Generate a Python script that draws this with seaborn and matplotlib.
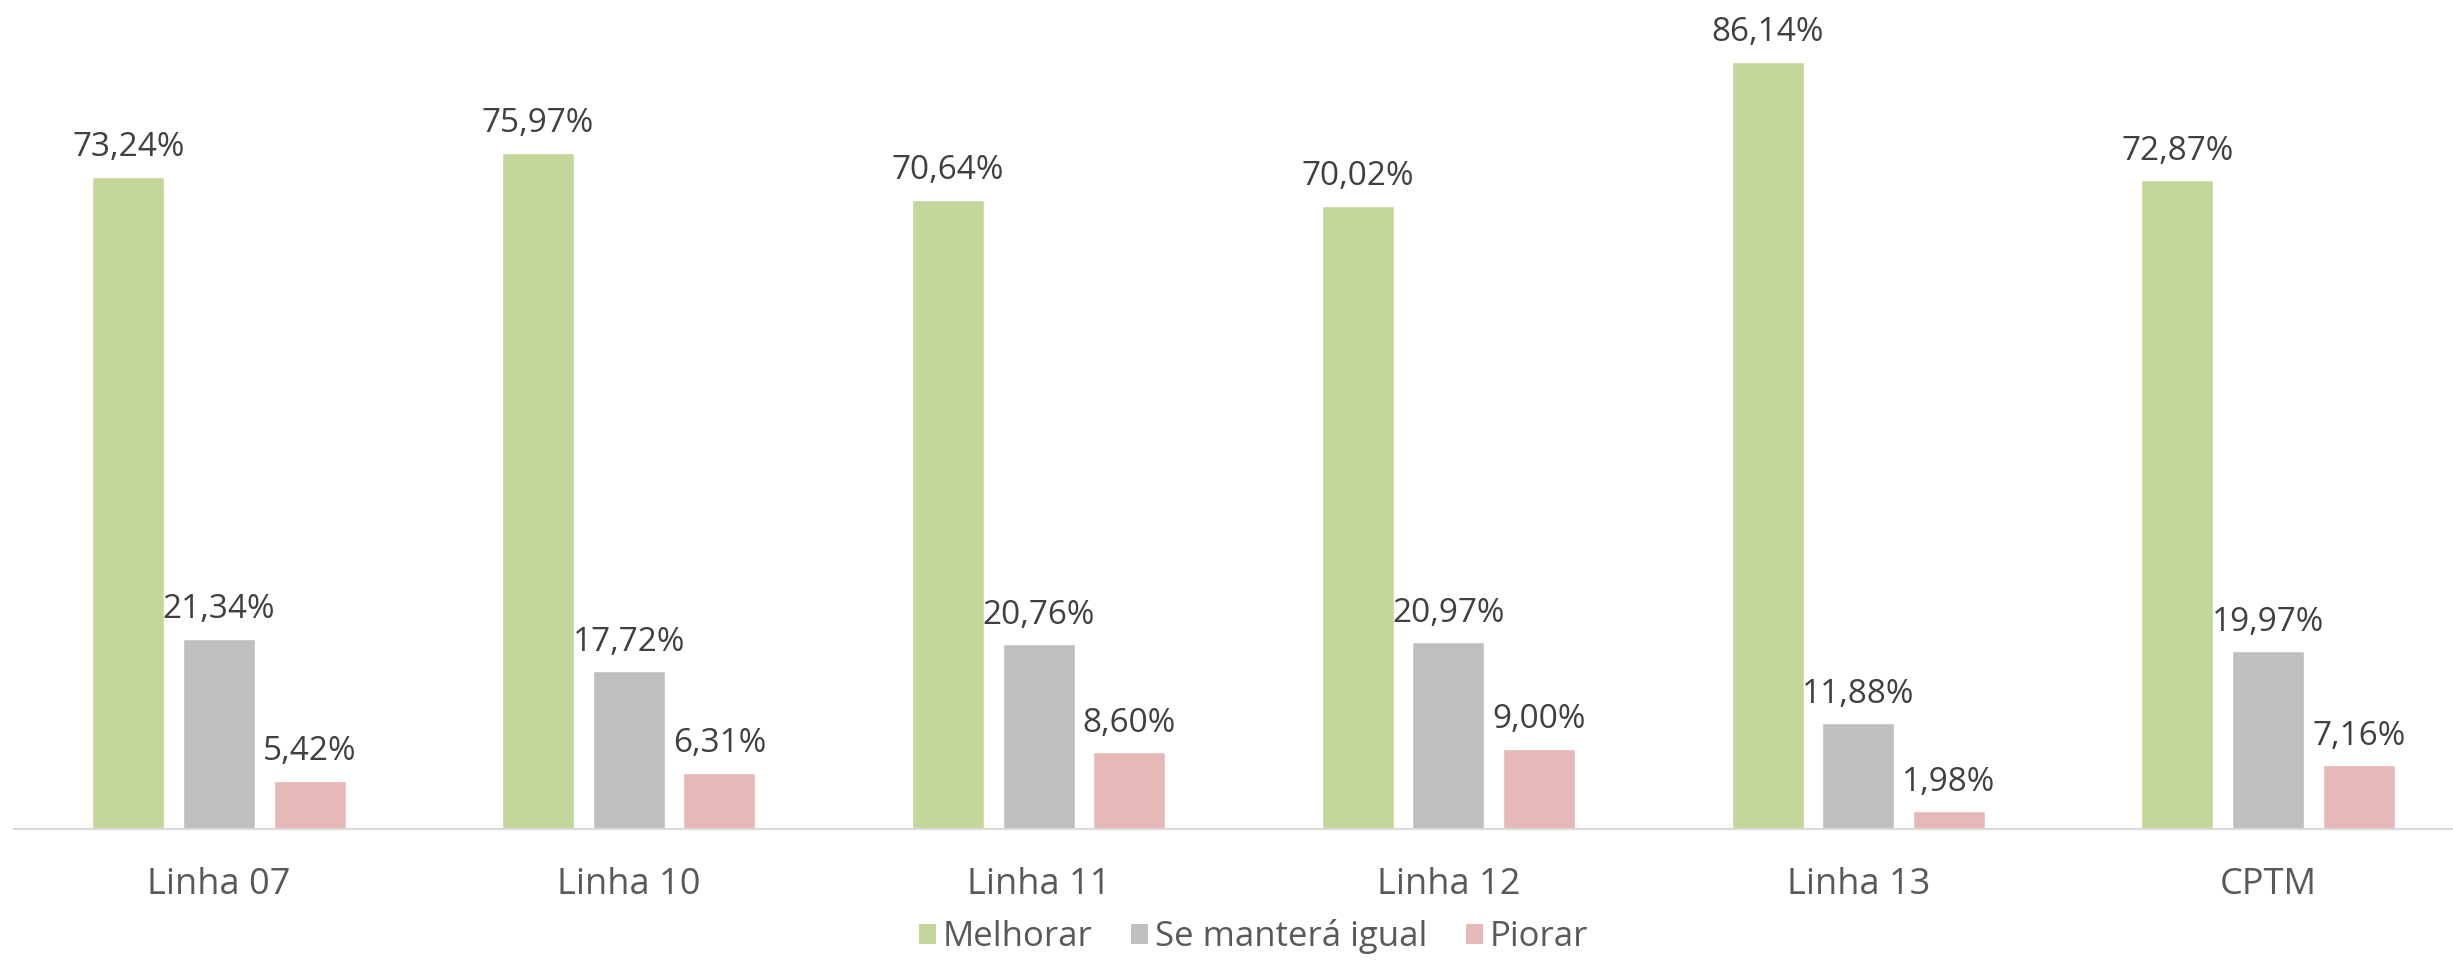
import matplotlib
matplotlib.use("Agg")
import matplotlib.pyplot as plt
import seaborn as sns
import pandas as pd
from matplotlib.patches import Patch

# Survey results per line (percent)
categories = ["Linha 07", "Linha 10", "Linha 11", "Linha 12", "Linha 13", "CPTM"]
series_names = ["Melhorar", "Se manterá igual", "Piorar"]
melhorar = [73.24, 75.97, 70.64, 70.02, 86.14, 72.87]
mantera = [21.34, 17.72, 20.76, 20.97, 11.88, 19.97]
piorar = [5.42, 6.31, 8.60, 9.00, 1.98, 7.16]
colors = ["#C4D79B", "#BFBFBF", "#E6B9B8"]

df = pd.DataFrame({
    "categoria": categories * 3,
    "serie": [series_names[0]] * 6 + [series_names[1]] * 6 + [series_names[2]] * 6,
    "valor": melhorar + mantera + piorar,
})

sns.set_theme(style="white")
plt.rcParams["font.family"] = ["Open Sans", "DejaVu Sans"]

W, H = 2453, 964
fig = plt.figure(figsize=(W / 100, H / 100), dpi=100)
ax = fig.add_axes([14 / W, (H - 829) / H, (2473 - 14) / W, 829 / H])

sns.barplot(data=df, x="categoria", y="valor", hue="serie",
            order=categories, hue_order=series_names,
            palette=colors, width=0.664, gap=0.207,
            saturation=1, legend=False, ax=ax)

for cont in ax.containers:
    labels = [f"{v:.2f}".replace(".", ",") + "%" for v in cont.datavalues]
    ax.bar_label(cont, labels=labels, padding=9, fontsize=24, color="#404040")

ax.set_xlim(-0.5, 5.5)
ax.set_ylim(0, 93.1)
ax.set_xlabel("")
ax.set_ylabel("")
ax.set_yticks([])
ax.tick_params(axis="x", length=0, pad=27, labelsize=26, labelcolor="#595959")
for s in ["left", "top", "right"]:
    ax.spines[s].set_visible(False)
ax.spines["bottom"].set_color("#D9D9D9")
ax.spines["bottom"].set_linewidth(1.5)

handles = [Patch(facecolor=c, edgecolor="none") for c in colors]
fig.legend(handles, series_names, loc="lower center", bbox_to_anchor=(0.511, -0.022),
           ncol=3, frameon=False, fontsize=25, labelcolor="#595959",
           handlelength=0.5, handleheight=0.5, handletextpad=0.2, columnspacing=1.1)

fig.savefig("out.png", dpi=100)
